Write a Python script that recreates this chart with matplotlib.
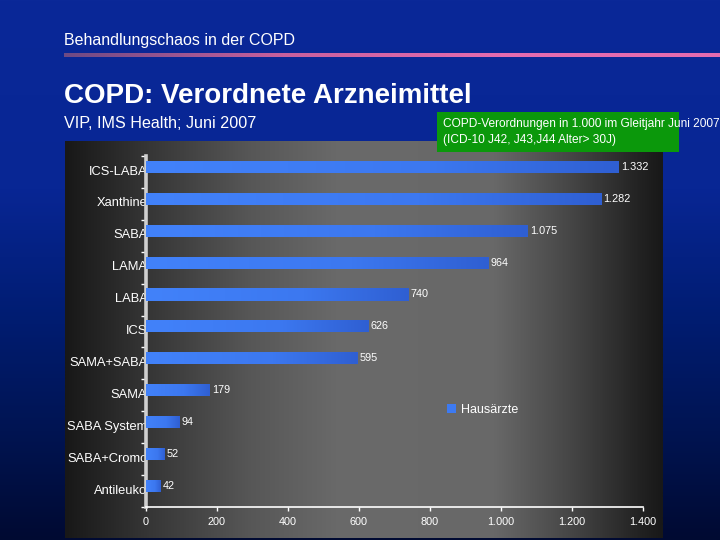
import numpy as np
import matplotlib
matplotlib.use("Agg")
import matplotlib.pyplot as plt
from matplotlib.colors import LinearSegmentedColormap
from matplotlib.patches import Rectangle
from matplotlib.ticker import FuncFormatter

plt.rcParams['font.family'] = ['Liberation Sans', 'DejaVu Sans']

# ---- data ----
categories = ["ICS-LABA", "Xanthine", "SABA", "LAMA", "LABA", "ICS", "SAMA+SABA",
              "SAMA", "SABA System", "SABA+Cromo", "Antileuko"]
values = [1332, 1282, 1075, 964, 740, 626, 595, 179, 94, 52, 42]
series_name = "Hausärzte"
x_ticks = [0, 200, 400, 600, 800, 1000, 1200, 1400]

header = "Behandlungschaos in der COPD"
title = "COPD: Verordnete Arzneimittel"
subtitle = "VIP, IMS Health; Juni 2007"
note_lines = ["COPD-Verordnungen in 1.000 im Gleitjahr Juni 2007",
              "(ICD-10 J42, J43,J44 Alter> 30J)"]


def de_fmt(v, pos=None):
    return f"{int(round(v)):,}".replace(",", ".")


W, H = 720, 540
fig = plt.figure(figsize=(7.2, 5.4), dpi=100)

# ---- background (pixel coordinate axes) ----
bg = fig.add_axes([0, 0, 1, 1], zorder=0)
bg.set_xlim(0, W)
bg.set_ylim(H, 0)
bg.axis('off')

blue = LinearSegmentedColormap.from_list("blue", [
    (0.0, (10/255, 40/255, 152/255)),
    (0.35, (8/255, 38/255, 148/255)),
    (0.6, (0/255, 28/255, 112/255)),
    (0.8, (0/255, 20/255, 82/255)),
    (1.0, (0/255, 10/255, 50/255))])
grad_v = np.linspace(0, 1, 256).reshape(-1, 1)
bg.imshow(grad_v, cmap=blue, extent=[0, W, H, 0], aspect='auto', zorder=0)

# header line
pink = LinearSegmentedColormap.from_list("pink", ["#6e4a84", "#c8609e", "#e46cb0", "#e46cb0"])
grad_h = np.linspace(0, 1, 256).reshape(1, -1)
bg.imshow(grad_h, cmap=pink, extent=[64, W, 57, 53], aspect='auto', zorder=1)

# chart panel
panel = LinearSegmentedColormap.from_list("panel", [
    (0.0, "#181818"), (0.14, "#363636"), (0.31, "#575757"), (0.46, "#6a6a6a"),
    (0.72, "#686868"), (0.85, "#454545"), (0.95, "#262626"), (1.0, "#181818")])
bg.imshow(grad_h, cmap=panel, extent=[65, 663, 538, 141], aspect='auto', zorder=1)

# green note box
bg.add_patch(Rectangle((437, 112), 242, 40, facecolor="#0b980b", edgecolor="none", zorder=2))
bg.text(443, 124, note_lines[0], color="white", fontsize=8.6, va='center', ha='left', zorder=3)
bg.text(443, 140, note_lines[1], color="white", fontsize=8.6, va='center', ha='left', zorder=3)

# texts
bg.text(64, 41, header, color="white", fontsize=11.5, va='center', ha='left', zorder=3)
bg.text(64, 96, title, color="white", fontsize=20, fontweight='bold', va='center', ha='left', zorder=3)
bg.text(64, 123, subtitle, color="white", fontsize=11.6, va='center', ha='left', zorder=3)

# ---- main chart ----
ax = fig.add_axes([146/W, 1 - 507/H, (643 - 146)/W, (507 - 156)/H], zorder=2)
ax.patch.set_alpha(0)
n = len(categories)
pos = np.arange(n)
bar_shift = -0.16
bar_h = 0.38

ax.set_xlim(0, 1400)
ax.set_ylim(n - 0.5, -0.5)

bars = ax.barh(pos + bar_shift, values, height=bar_h, color="#3d7af2", label=series_name, zorder=3)

bar_cmap = LinearSegmentedColormap.from_list("bar", [(0.0, "#4282fa"), (0.6, "#3c78f0"), (1.0, "#2f5fd2")])
for b in bars:
    x0, y0 = b.get_x(), b.get_y()
    w, h = b.get_width(), b.get_height()
    im = ax.imshow(grad_h, cmap=bar_cmap, extent=[x0, x0 + w, y0 + h, y0],
                   aspect='auto', zorder=4)
    im.set_clip_path(b)

ax.set_xlim(0, 1400)
ax.set_ylim(n - 0.5, -0.5)

for p, v in zip(pos, values):
    ax.text(v + 6, p + bar_shift, de_fmt(v), color="white", fontsize=7.8,
            va='center', ha='left', zorder=5)

ax.set_yticks(pos - 0.06)
ax.set_yticklabels(categories, fontsize=9.3, color="white")
ax.tick_params(axis='y', which='major', length=0, pad=-1)
ax.set_yticks(np.arange(-0.5, n, 1.0), minor=True)
ax.tick_params(axis='y', which='minor', length=3.5, width=1, color="white", direction='out')

ax.set_xticks(x_ticks)
ax.xaxis.set_major_formatter(FuncFormatter(de_fmt))
ax.tick_params(axis='x', length=3, width=1, color="white", direction='out',
               labelsize=7.8, labelcolor="white", pad=4)

for s in ("top", "right"):
    ax.spines[s].set_visible(False)
ax.spines['left'].set_color("#cfcfcf")
ax.spines['left'].set_linewidth(2.6)
ax.spines['bottom'].set_color("white")
ax.spines['bottom'].set_linewidth(1.2)

leg = ax.legend(loc='center left', bbox_to_anchor=(447/W, 1 - 410/H), bbox_transform=fig.transFigure,
                frameon=False, handlelength=0.7, handleheight=0.7, handletextpad=0.4,
                borderpad=0, borderaxespad=0, fontsize=9, labelcolor="white")

fig.savefig("out.png", dpi=100)
